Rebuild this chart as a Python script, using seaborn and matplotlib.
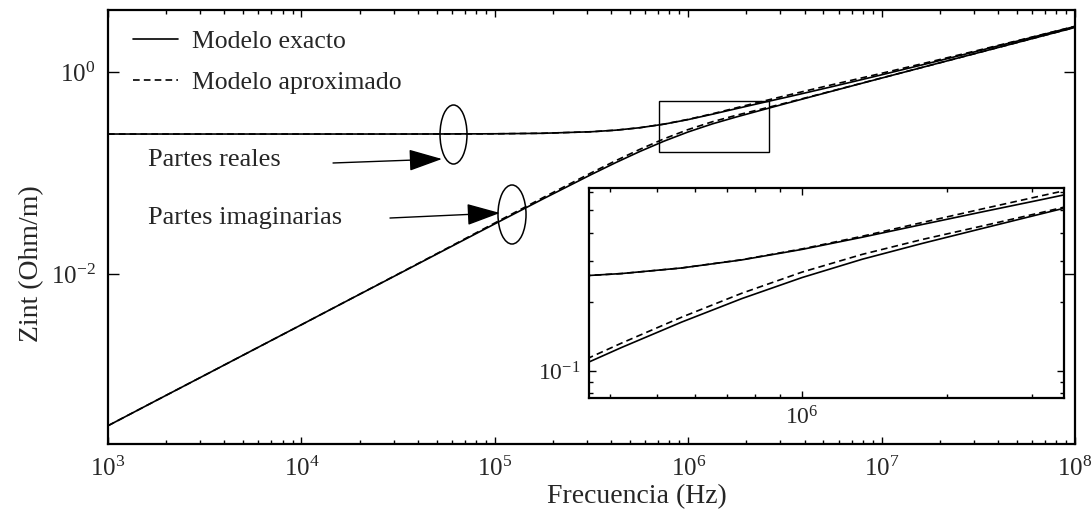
import matplotlib
matplotlib.use("Agg")
import matplotlib.pyplot as plt
import seaborn as sns
import pandas as pd
from matplotlib.patches import Ellipse, Rectangle
from matplotlib.patches import ArrowStyle
from matplotlib.ticker import FixedLocator, FixedFormatter, NullFormatter

# ---------------- data ----------------
freq_hz = [1.0e3, 1.778e3, 3.162e3, 5.623e3, 1.0e4, 1.778e4, 3.162e4, 5.623e4,
           1.0e5, 1.778e5, 3.162e5, 4.217e5, 5.623e5, 7.499e5, 1.0e6, 1.334e6,
           1.778e6, 2.371e6, 3.162e6, 4.217e6, 5.623e6, 7.499e6, 1.0e7, 1.778e7,
           3.162e7, 5.623e7, 1.0e8]

real_exact = [0.243, 0.243, 0.243, 0.243, 0.243, 0.243, 0.243, 0.2434,
              0.2443, 0.2472, 0.2560, 0.2653, 0.2806, 0.3042, 0.3379, 0.3818,
              0.4338, 0.4924, 0.5577, 0.6331, 0.7202, 0.8211, 0.9377, 1.2283,
              1.6163, 2.1341, 2.825]

imag_exact = [3.14e-4, 5.59e-4, 9.93e-4, 1.766e-3, 3.14e-3, 5.59e-3, 9.93e-3, 0.01765,
              0.03133, 0.05539, 0.09672, 0.1265, 0.1632, 0.2065, 0.2549, 0.3063,
              0.3589, 0.4171, 0.4843, 0.5615, 0.6503, 0.7524, 0.8702, 1.1625,
              1.5519, 2.0706, 2.762]

real_approx = [0.243, 0.243, 0.243, 0.243, 0.243, 0.243, 0.243, 0.2434,
               0.2443, 0.2472, 0.2560, 0.2653, 0.2806, 0.3048, 0.3396, 0.3856,
               0.4425, 0.5072, 0.5800, 0.6616, 0.7526, 0.8539, 0.9705, 1.2590,
               1.6405, 2.1512, 2.8335]

imag_approx = [3.14e-4, 5.59e-4, 9.93e-4, 1.766e-3, 3.14e-3, 5.60e-3, 9.98e-3, 0.01783,
               0.03196, 0.05705, 0.1006, 0.1322, 0.1714, 0.2179, 0.2692, 0.3216,
               0.3733, 0.4275, 0.4906, 0.5660, 0.6536, 0.7554, 0.8728, 1.1625,
               1.5519, 2.0706, 2.762]

legend_labels = ["Modelo exacto", "Modelo aproximado"]
annot_labels = ["Partes reales", "Partes imaginarias"]
x_label = "Frecuencia (Hz)"
y_label = "Zint (Ohm/m)"

x_ticks = [1e3, 1e4, 1e5, 1e6, 1e7, 1e8]
x_ticklabels = [r"$10^{3}$", r"$10^{4}$", r"$10^{5}$", r"$10^{6}$", r"$10^{7}$", r"$10^{8}$"]
y_ticks = [1e-2, 1e0]
y_ticklabels = [r"$10^{-2}$", r"$10^{0}$"]
inset_x_ticks = [1e6]
inset_x_ticklabels = [r"$10^{6}$"]
inset_y_ticks = [1e-1]
inset_y_ticklabels = [r"$10^{-1}$"]

# zoom window marked on the main plot
zoom_f = [7.06e5, 2.62e6]
zoom_z = [0.161, 0.516]

# ---------------- style ----------------
sns.set_theme(style="ticks")
plt.rcParams["font.family"] = ["Liberation Serif", "DejaVu Serif"]
plt.rcParams["mathtext.fontset"] = "custom"
plt.rcParams["mathtext.rm"] = "Liberation Serif"
plt.rcParams["mathtext.it"] = "Liberation Serif:italic"
plt.rcParams["mathtext.bf"] = "Liberation Serif:bold"
plt.rcParams["axes.linewidth"] = 1.6
plt.rcParams["axes.edgecolor"] = "black"

df = pd.DataFrame({"f": freq_hz, "re_ex": real_exact, "im_ex": imag_exact,
                   "re_ap": real_approx, "im_ap": imag_approx})

fig = plt.figure(figsize=(10.92, 5.16), dpi=100)
ax = fig.add_axes([108 / 1092, 1 - 444 / 516, 967 / 1092, 434 / 516])

solid_kw = dict(color="black", linewidth=1.2, estimator=None, sort=False)
dash_kw = dict(color="black", linewidth=1.2, estimator=None, sort=False,
               linestyle=(0, (4, 2.5)))

def draw_curves(a, with_labels):
    sns.lineplot(data=df, x="f", y="re_ex", ax=a,
                 label=legend_labels[0] if with_labels else None, **solid_kw)
    sns.lineplot(data=df, x="f", y="im_ex", ax=a, **solid_kw)
    sns.lineplot(data=df, x="f", y="re_ap", ax=a,
                 label=legend_labels[1] if with_labels else None, **dash_kw)
    sns.lineplot(data=df, x="f", y="im_ap", ax=a, **dash_kw)

draw_curves(ax, True)
ax.set_xscale("log")
ax.set_yscale("log")
ax.set_xlim(1e3, 1e8)
ax.set_ylim(2.07e-4, 4.11)

ax.xaxis.set_major_locator(FixedLocator(x_ticks))
ax.xaxis.set_major_formatter(FixedFormatter(x_ticklabels))
minor_x = [m * 10 ** e for e in range(3, 8) for m in range(2, 10)]
ax.xaxis.set_minor_locator(FixedLocator(minor_x))
ax.xaxis.set_minor_formatter(NullFormatter())
ax.yaxis.set_major_locator(FixedLocator(y_ticks))
ax.yaxis.set_major_formatter(FixedFormatter(y_ticklabels))
ax.yaxis.set_minor_locator(FixedLocator([]))

ax.tick_params(which="both", direction="in", top=True, right=True,
               color="black", width=1.0, labelsize=18)
ax.tick_params(axis="x", which="major", length=5, pad=9)
ax.tick_params(axis="x", which="minor", length=3)
ax.tick_params(axis="y", which="major", length=8, pad=9)
for s in ax.spines.values():
    s.set_color("black")
    s.set_linewidth(1.6)

ax.set_xlabel(x_label, fontsize=20)
ax.set_ylabel(y_label, fontsize=20)
ax.xaxis.set_label_coords(0.547, -0.092)
ax.yaxis.set_label_coords(-0.066, 0.415)

handles, labels = ax.get_legend_handles_labels()
leg = ax.legend(handles, labels, loc="upper left", bbox_to_anchor=(0.026, 0.955),
                frameon=False, fontsize=18.5, handlelength=1.75, handletextpad=0.55,
                labelspacing=0.72, borderpad=0.0, borderaxespad=0.0)

# zoom rectangle
ax.add_patch(Rectangle((zoom_f[0], zoom_z[0]), zoom_f[1] - zoom_f[0], zoom_z[1] - zoom_z[0],
                       fill=False, edgecolor="black", linewidth=1.0, zorder=3))

# ellipses + arrows + text (annotation layout in axes fractions)
ax.add_patch(Ellipse((0.3573, 0.7131), 0.0279, 0.136, transform=ax.transAxes,
                     fill=False, edgecolor="black", linewidth=1.1))
ax.add_patch(Ellipse((0.4178, 0.5288), 0.0290, 0.136, transform=ax.transAxes,
                     fill=False, edgecolor="black", linewidth=1.1))
astyle = ArrowStyle("-|>", head_length=1.05, head_width=0.34)
ax.annotate("", xy=(0.3454, 0.6567), xytext=(0.2327, 0.6475), xycoords="axes fraction",
            arrowprops=dict(arrowstyle=astyle, mutation_scale=20, color="black",
                            lw=1.0, shrinkA=0, shrinkB=0))
ax.annotate("", xy=(0.4054, 0.5323), xytext=(0.2916, 0.5207), xycoords="axes fraction",
            arrowprops=dict(arrowstyle=astyle, mutation_scale=20, color="black",
                            lw=1.0, shrinkA=0, shrinkB=0))
ax.text(0.0414, 0.654, annot_labels[0], transform=ax.transAxes, va="center",
        ha="left", fontsize=19)
ax.text(0.0414, 0.5207, annot_labels[1], transform=ax.transAxes, va="center",
        ha="left", fontsize=19)

# ---------------- inset ----------------
axi = fig.add_axes([589 / 1092, 1 - 398 / 516, 475 / 1092, 210 / 516])
axi.set_facecolor("white")
draw_curves(axi, False)
axi.set_xscale("log")
axi.set_yscale("log")
axi.set_xlim(3.61e5, 3.50e6)
axi.set_ylim(0.0763, 0.625)
axi.xaxis.set_major_locator(FixedLocator(inset_x_ticks))
axi.xaxis.set_major_formatter(FixedFormatter(inset_x_ticklabels))
axi.xaxis.set_minor_locator(FixedLocator([4e5, 5e5, 6e5, 7e5, 8e5, 9e5, 2e6, 3e6]))
axi.xaxis.set_minor_formatter(NullFormatter())
axi.yaxis.set_major_locator(FixedLocator(inset_y_ticks))
axi.yaxis.set_major_formatter(FixedFormatter(inset_y_ticklabels))
axi.yaxis.set_minor_locator(FixedLocator([0.08, 0.09, 0.2, 0.3, 0.4, 0.5, 0.6]))
axi.yaxis.set_minor_formatter(NullFormatter())
axi.tick_params(which="both", direction="in", top=True, right=True,
                color="black", width=1.0, labelsize=17)
axi.tick_params(which="major", length=5, pad=6)
axi.tick_params(which="minor", length=3)
axi.set_xlabel("")
axi.set_ylabel("")
for s in axi.spines.values():
    s.set_color("black")
    s.set_linewidth(1.6)
if axi.get_legend() is not None:
    axi.get_legend().remove()

fig.savefig("out.png", dpi=100)
